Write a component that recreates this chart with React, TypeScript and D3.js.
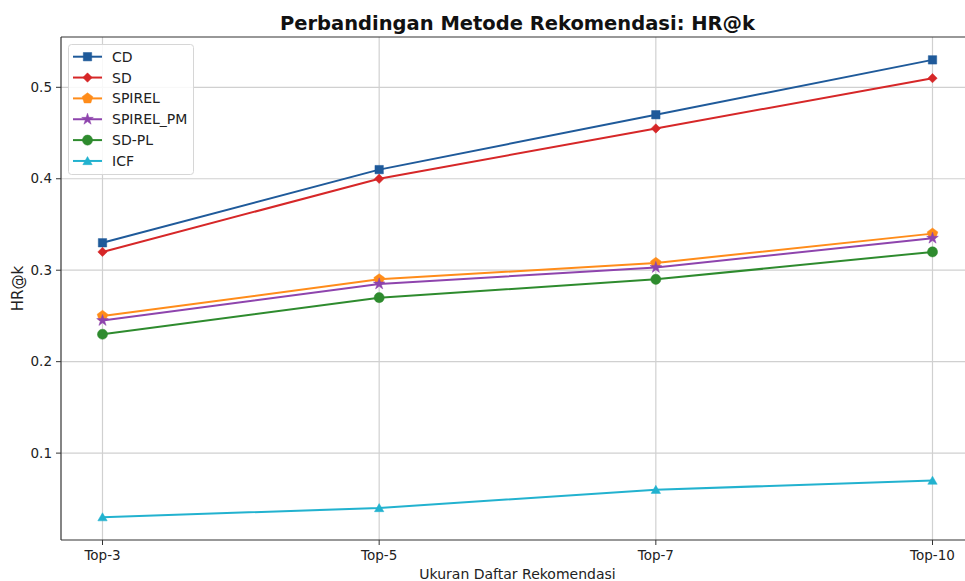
import React from "react";
import * as d3 from "d3";

const categories = ["Top-3", "Top-5", "Top-7", "Top-10"];
const seriesNames = ["CD", "SD", "SPIREL", "SPIREL_PM", "SD-PL", "ICF"];
const cdValues = [0.33, 0.41, 0.47, 0.53];
const sdValues = [0.32, 0.4, 0.455, 0.51];
const spirelValues = [0.25, 0.29, 0.308, 0.34];
const spirelPmValues = [0.245, 0.285, 0.303, 0.335];
const sdPlValues = [0.23, 0.27, 0.29, 0.32];
const icfValues = [0.03, 0.04, 0.06, 0.07];
const yTicks = [0.1, 0.2, 0.3, 0.4, 0.5];

const colors = ["#1f5a9a", "#d62728", "#ff8c1a", "#8e44ad", "#2e8b2e", "#22b2cf"];
const markers = ["square", "diamond", "pentagon", "star", "circle", "triangle"];

const W = 965;
const H = 581;
const left = 61;
const right = 974;
const top = 37;
const bottom = 540;
const font = "DejaVu Sans, sans-serif";

function polygon(n: number, r: number, rot: number): string {
  const pts: string[] = [];
  for (let i = 0; i < n; i++) {
    const a = rot + (i * 2 * Math.PI) / n;
    pts.push(`${r * Math.cos(a)},${r * Math.sin(a)}`);
  }
  return "M" + pts.join("L") + "Z";
}

function markerPath(kind: string): string {
  switch (kind) {
    case "square":
      return "M-4.2,-4.2L4.2,-4.2L4.2,4.2L-4.2,4.2Z";
    case "diamond":
      return polygon(4, 4.7, -Math.PI / 2);
    case "pentagon":
      return polygon(5, 5.6, -Math.PI / 2);
    case "star":
      return d3.symbol().type(d3.symbolStar).size(42)() as string;
    case "circle":
      return d3.symbol().type(d3.symbolCircle).size(80)() as string;
    default:
      return polygon(3, 5.4, -Math.PI / 2);
  }
}

function Marker({ kind, x, y, color }: { kind: string; x: number; y: number; color: string }) {
  return (
    <path
      d={markerPath(kind)}
      transform={`translate(${x},${y + (kind === "triangle" ? 1 : 0)})`}
      fill={color}
      stroke={color}
      strokeWidth={0.5}
    />
  );
}

export default function App() {
  const allSeries = [cdValues, sdValues, spirelValues, spirelPmValues, sdPlValues, icfValues];
  const xi = d3.scaleLinear().domain([-0.15, categories.length - 1 + 0.15]).range([left, right]);
  const xPos = (i: number) => xi(i);
  const y = d3.scaleLinear().domain([0.005, 0.555]).range([bottom, top]);
  const line = d3
    .line<number>()
    .x((_, i) => xPos(i))
    .y((d) => y(d));

  return (
    <svg width={W} height={H} style={{ position: "absolute", left: 0, top: 0, background: "#fff" }}>
      <rect x={0} y={0} width={W} height={H} fill="#fff" />
      {categories.map((c, i) => (
        <line key={c} x1={xPos(i)} x2={xPos(i)} y1={top} y2={bottom} stroke="#d0d0d0" strokeWidth={1.2} />
      ))}
      {yTicks.map((t) => (
        <line key={t} x1={left} x2={right} y1={y(t)} y2={y(t)} stroke="#d0d0d0" strokeWidth={1.2} />
      ))}
      <line x1={left} x2={left} y1={top} y2={bottom} stroke="#333" strokeWidth={1.2} />
      <line x1={left} x2={right} y1={bottom} y2={bottom} stroke="#333" strokeWidth={1.2} />
      <line x1={left} x2={right} y1={top} y2={top} stroke="#333" strokeWidth={1.2} />
      {yTicks.map((t) => (
        <g key={t}>
          <line x1={left - 5} x2={left} y1={y(t)} y2={y(t)} stroke="#333" strokeWidth={1} />
          <text x={left - 9} y={y(t)} dy="0.35em" textAnchor="end" fontFamily={font} fontSize={13.5} fill="#222">
            {t.toFixed(1)}
          </text>
        </g>
      ))}
      {categories.map((c, i) => (
        <g key={c}>
          <line x1={xPos(i)} x2={xPos(i)} y1={bottom} y2={bottom + 5} stroke="#333" strokeWidth={1} />
          <text x={xPos(i)} y={bottom + 20} textAnchor="middle" fontFamily={font} fontSize={13.5} fill="#222">
            {c}
          </text>
        </g>
      ))}
      {allSeries.map((vals, si) => (
        <g key={seriesNames[si]}>
          <path d={line(vals) as string} fill="none" stroke={colors[si]} strokeWidth={2} />
          {vals.map((v, i) => (
            <Marker key={i} kind={markers[si]} x={xPos(i)} y={y(v)} color={colors[si]} />
          ))}
        </g>
      ))}
      <rect x={68.5} y={44.5} width={125} height={130} rx={3} fill="#fff" fillOpacity={0.85} stroke="#d6d6d6" strokeWidth={1} />
      {seriesNames.map((n, i) => {
        const ly = 56.7 + i * 20.85;
        return (
          <g key={n}>
            <line x1={73} x2={102} y1={ly} y2={ly} stroke={colors[i]} strokeWidth={2} />
            <Marker kind={markers[i]} x={87.5} y={ly} color={colors[i]} />
            <text x={112} y={ly} dy="0.36em" fontFamily={font} fontSize={14} fill="#222">
              {n}
            </text>
          </g>
        );
      })}
      <text x={(left + right) / 2} y={30} textAnchor="middle" fontFamily={font} fontWeight="bold" fontSize={19.5} fill="#111">
        Perbandingan Metode Rekomendasi: HR@k
      </text>
      <text x={(left + right) / 2} y={579} textAnchor="middle" fontFamily={font} fontSize={14} fill="#222">
        Ukuran Daftar Rekomendasi
      </text>
      <text
        transform={`translate(23,${(top + bottom) / 2}) rotate(-90)`}
        textAnchor="middle"
        fontFamily={font}
        fontSize={15}
        fill="#222"
      >
        HR@k
      </text>
    </svg>
  );
}
